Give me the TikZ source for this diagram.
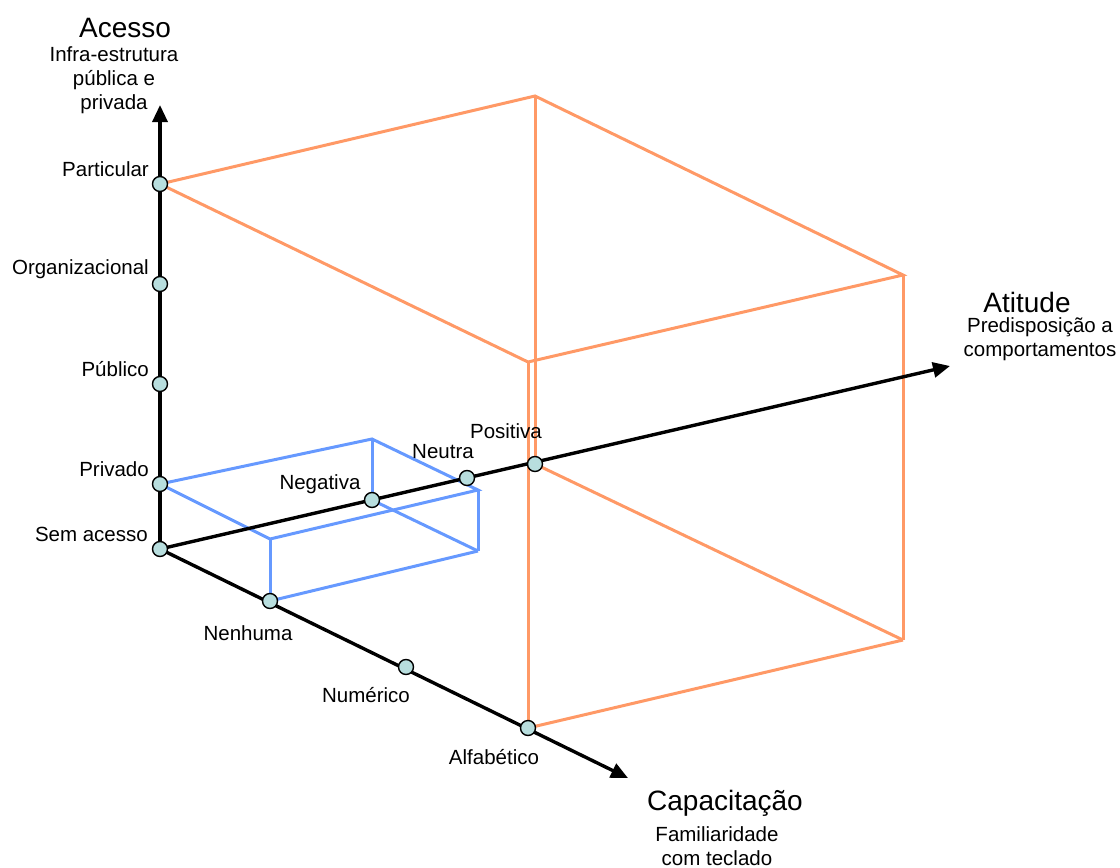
\documentclass[tikz,border=0pt]{standalone}
\usepackage{fontspec}
\setmainfont{Liberation Sans}
\usetikzlibrary{arrows.meta}
\definecolor{dotfill}{HTML}{B8DEDE}
\definecolor{boxorange}{HTML}{FF9966}
\definecolor{boxblue}{HTML}{6699FF}
\tikzset{
  pt/.style={circle,draw=black,fill=dotfill,line width=1.4pt,inner sep=0pt,minimum size=15pt},
  axis/.style={line width=3.4pt,-{Triangle[length=17pt,width=15pt]}},
  big/.style={font=\fontsize{28}{30}\selectfont,inner sep=0pt},
  lbl/.style={font=\fontsize{20.5}{24}\selectfont,inner sep=0pt},
  sub/.style={font=\fontsize{20.5}{24}\selectfont,inner sep=0pt,align=center},
  obox/.style={draw=boxorange,line width=3pt},
  bbox/.style={draw=boxblue,line width=3pt},
}
\begin{document}
\begin{tikzpicture}[x=1pt,y=-1pt]
\useasboundingbox (0,0) rectangle (1120,868);
% axis end points
\coordinate (O) at (160,549);
\coordinate (Atop) at (160,105);
\coordinate (Tend) at (950,366);
\coordinate (Cend) at (628,778);
% corners of the large box
\coordinate (OA) at (535,96);
\coordinate (OB) at (903,275);
\coordinate (OC) at (528,362);
\coordinate (OD) at (903,640);
% corners of the small box
\coordinate (BA) at (372,439);
\coordinate (BB) at (478,490);
\coordinate (BC) at (270,539);
\coordinate (BD) at (478,551);
% scale points
\coordinate (pPart) at (160,184);
\coordinate (pOrg) at (160,284);
\coordinate (pPub) at (160,384);
\coordinate (pPriv) at (160,484);
\coordinate (pNeg) at (372,500);
\coordinate (pNeu) at (467,478);
\coordinate (pPos) at (535,464);
\coordinate (pNen) at (270,601);
\coordinate (pNum) at (406,667);
\coordinate (pAlf) at (528,728);

% large box (orange)
\draw[obox] (pPart) -- (OA) -- (OB) -- (OC) -- cycle;
\draw[obox] (OA) -- (pPos);
\draw[obox] (OC) -- (pAlf);
\draw[obox] (OB) -- (OD);
\draw[obox] (pAlf) -- (OD);
\draw[obox] (pPos) -- (OD);

% small box (blue)
\draw[bbox] (pPriv) -- (BA) -- (BB) -- (BC) -- cycle;
\draw[bbox] (BA) -- (pNeg);
\draw[bbox] (BC) -- (pNen);
\draw[bbox] (BB) -- (BD);
\draw[bbox] (pNen) -- (BD);
\draw[bbox] (pNeg) -- (BD);

% axes
\draw[axis] (O) -- (Atop);
\draw[axis] (O) -- (Tend);
\draw[axis] (O) -- (Cend);

% scale points
\foreach \p in {O,pPart,pOrg,pPub,pPriv,pNeg,pNeu,pPos,pNen,pNum,pAlf}
  \node[pt] (n\p) at (\p) {};

% axis titles
\node[big] (tAcesso) at (125,28) {Acesso};
\node[sub] (sAcesso) at (114,80) {Infra-estrutura\\pública e\\privada};
\node[big] (tAtitude) at (1027,302) {Atitude};
\node[sub] (sAtitude) at (1040,339) {Predisposição a\\comportamentos};
\node[big] (tCap) at (725,803) {Capacitação};
\node[sub] (sCap) at (717,846) {Familiaridade\\com teclado};

% scale labels
\node[lbl,anchor=east] (lPart) at (149,169) {Particular};
\node[lbl,anchor=east] (lOrg) at (149,269) {Organizacional};
\node[lbl,anchor=east] (lPub) at (149,369) {Público};
\node[lbl,anchor=east] (lPriv) at (149,469) {Privado};
\node[lbl,anchor=east] (lSem) at (148,534) {Sem acesso};
\node[lbl] (lNeg) at (320,484) {Negativa};
\node[lbl] (lNeu) at (443,452) {Neutra};
\node[lbl] (lPos) at (506,431) {Positiva};
\node[lbl] (lNen) at (248,633) {Nenhuma};
\node[lbl] (lNum) at (366,695) {Numérico};
\node[lbl] (lAlf) at (494,757) {Alfabético};
\end{tikzpicture}
\end{document}
